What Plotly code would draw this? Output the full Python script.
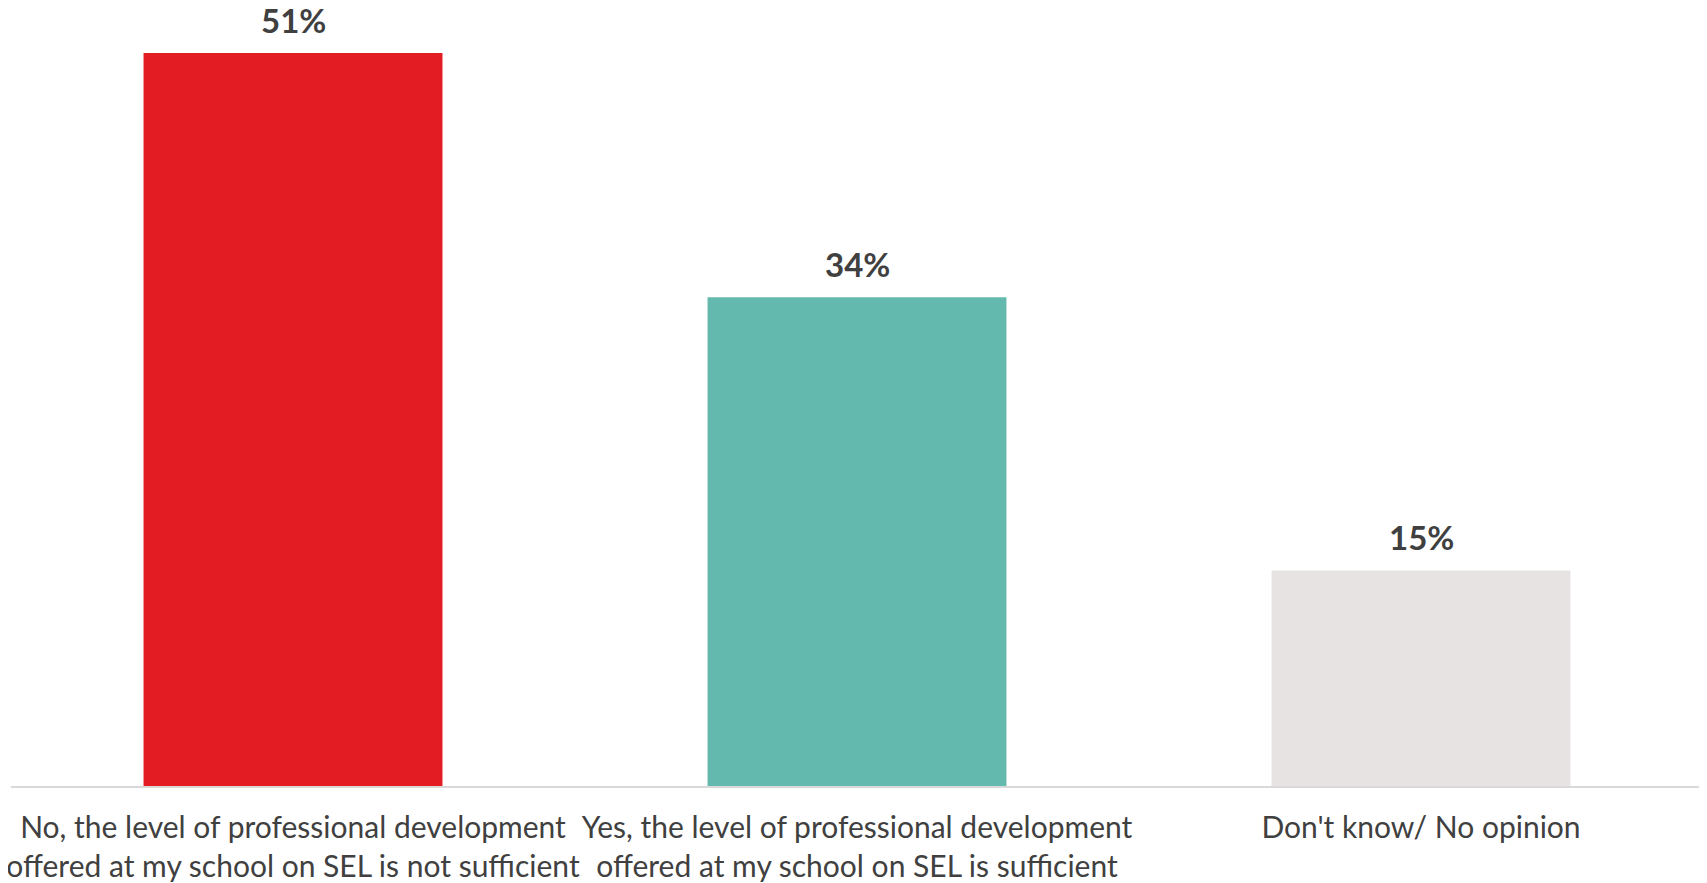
import plotly.graph_objects as go

# survey responses
categories = [
    "No, the level of professional development<br>offered at my school on SEL is not sufficient",
    "Yes, the level of professional development<br>offered at my school on SEL is sufficient",
    "Don't know/ No opinion",
]
values = [51, 34, 15]
bar_colors = ["#E31B23", "#63B9AE", "#E7E3E2"]

fig = go.Figure()

fig.add_trace(go.Bar(
    x=categories,
    y=values,
    marker=dict(color=bar_colors, line=dict(width=0)),
    hoverinfo="skip",
))

# value labels above bars
for cat, val in zip(categories, values):
    fig.add_annotation(
        x=cat, y=val,
        text=f"<b>{val}%</b>",
        showarrow=False,
        yanchor="bottom",
        yshift=11,
        font=dict(family="Lato, sans-serif", size=33, color="#404040"),
    )

# page body has an 8px margin, so size the figure to fit the window
fig.update_layout(
    width=1699,
    height=875,
    bargap=0.47,
    showlegend=False,
    plot_bgcolor="white",
    paper_bgcolor="white",
    font=dict(family="Lato, sans-serif", size=30, color="#404040"),
    margin=dict(l=3, r=4, t=40, b=97),
)

fig.update_xaxes(
    showline=True, linecolor="#D9D9D9", linewidth=2,
    ticks="", tickangle=0, tickfont=dict(size=30, color="#404040"),
    ticklabelstandoff=14, automargin=False,
)
fig.update_yaxes(
    range=[0, 51.35], visible=False, showgrid=False, zeroline=False,
)

fig.write_html("out.html")
